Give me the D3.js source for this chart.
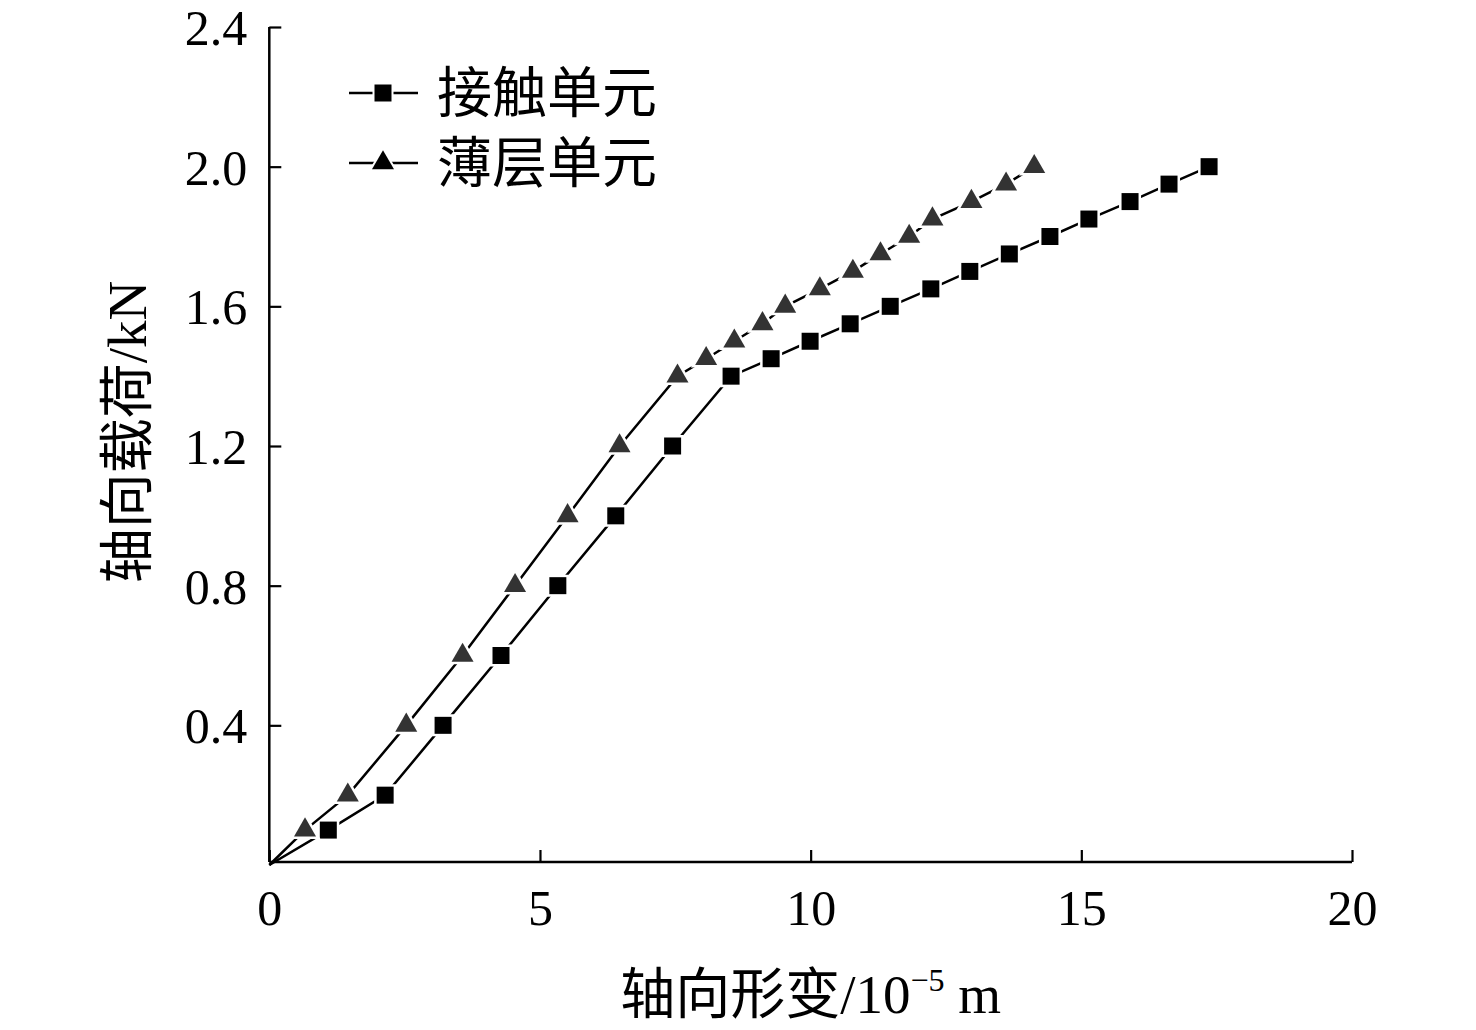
<!DOCTYPE html>
<html><head><meta charset="utf-8">
<script src="https://cdn.jsdelivr.net/npm/d3@7"></script>
<style>body{margin:0;background:#fff}</style>
</head><body>
<svg id="c" width="1476" height="1030"></svg>
<script>
// ---- data ----
const contactX = [0, 1.09, 2.14, 3.21, 4.28, 5.33, 6.40, 7.45, 8.53, 9.27, 9.99, 10.73, 11.47, 12.22, 12.94, 13.67, 14.42, 15.14, 15.90, 16.62, 17.36];
const contactY = [0, 0.1, 0.2, 0.4, 0.6, 0.8, 1.0, 1.2, 1.4, 1.45, 1.5, 1.55, 1.6, 1.65, 1.7, 1.75, 1.8, 1.85, 1.9, 1.95, 2.0];
const thinX = [0, 0.66, 1.45, 2.53, 3.57, 4.54, 5.51, 6.47, 7.54, 8.07, 8.59, 9.11, 9.53, 10.17, 10.78, 11.29, 11.82, 12.25, 12.97, 13.61, 14.13];
const thinY = [0, 0.1, 0.2, 0.4, 0.6, 0.8, 1.0, 1.2, 1.4, 1.45, 1.5, 1.55, 1.6, 1.65, 1.7, 1.75, 1.8, 1.85, 1.9, 1.95, 2.0];
const seriesNames = ["接触单元", "薄层单元"];
const xTicks = [0, 5, 10, 15, 20];
const yTicks = [0.4, 0.8, 1.2, 1.6, 2.0, 2.4];
const xTitle = "轴向形变/10";
const xTitleSup = "−5";
const xTitleUnit = " m";
const yTitle = "轴向载荷/kN";

const FONT = "'Liberation Serif', 'Noto Sans CJK SC', serif";
const svg = d3.select("#c");
const x = d3.scaleLinear().domain([0, 20]).range([269.3, 1352]);
const y = d3.scaleLinear().domain([0, 2.4]).range([865, 27]);
const axisY = 862;

// axes
const gx = svg.append("g").attr("transform", `translate(0,${axisY})`)
  .call(d3.axisBottom(x).tickValues(xTicks).tickSizeInner(-12).tickSizeOuter(0).tickPadding(28).tickFormat(d3.format("d")));
const gy = svg.append("g").attr("transform", `translate(${x(0)},0)`)
  .call(d3.axisLeft(y).tickValues(yTicks).tickSizeInner(-12).tickSizeOuter(0).tickPadding(22).tickFormat(d3.format(".1f")));
[gx, gy].forEach(g => {
  g.select(".domain").remove();
  g.selectAll("line").attr("stroke", "#000").attr("stroke-width", 2.2);
  g.selectAll("text").attr("font-family", FONT).attr("font-size", 50).attr("fill", "#000");
});
gx.selectAll("text").attr("dy", "0.7em");
gy.selectAll("text").attr("dy", "0.35em");
svg.append("line").attr("x1", x(0)).attr("x2", x(20)).attr("y1", axisY).attr("y2", axisY)
  .attr("stroke", "#000").attr("stroke-width", 2.5);
svg.append("line").attr("x1", x(0)).attr("x2", x(0)).attr("y1", axisY).attr("y2", y(2.4))
  .attr("stroke", "#000").attr("stroke-width", 2.5);

// titles
const xt = svg.append("text").attr("x", (x(0) + x(20)) / 2).attr("y", 1013)
  .attr("text-anchor", "middle").attr("font-family", FONT).attr("font-size", 55).attr("fill", "#000");
xt.append("tspan").text(xTitle);
xt.append("tspan").attr("font-size", 32).attr("dy", -22).text(xTitleSup);
xt.append("tspan").attr("dy", 22).text(xTitleUnit);
svg.append("text").attr("transform", `translate(146,432) rotate(-90)`)
  .attr("text-anchor", "middle").attr("font-family", FONT).attr("font-size", 55).attr("fill", "#000")
  .text(yTitle);

// series
const line = d3.line().x(d => x(d[0])).y(d => y(d[1]));
const sq = d3.symbol().type(d3.symbolSquare).size(17 * 17);
const tri = d3.symbol().type(d3.symbolTriangle).size(210);
const series = [
  {pts: contactX.map((v, i) => [v, contactY[i]]), sym: sq, fill: "#000"},
  {pts: thinX.map((v, i) => [v, thinY[i]]), sym: tri, fill: "#333"}
];
series.forEach(s => {
  svg.append("path").attr("d", line(s.pts)).attr("fill", "none").attr("stroke", "#000").attr("stroke-width", 2.5);
  svg.selectAll(null).data(s.pts.slice(1)).enter().append("path")
    .attr("d", s.sym()).attr("transform", d => `translate(${x(d[0])},${y(d[1])})`)
    .attr("fill", s.fill).attr("stroke", "#fff").attr("stroke-width", 5).attr("paint-order", "stroke");
});

// legend
const legY = [93, 163];
series.forEach((s, i) => {
  const g = svg.append("g").attr("transform", `translate(349,${legY[i]})`);
  g.append("line").attr("x1", 0).attr("x2", 69).attr("stroke", "#000").attr("stroke-width", 2.5);
  g.append("path").attr("d", s.sym()).attr("transform", "translate(34,0)")
    .attr("fill", "#000").attr("stroke", "#fff").attr("stroke-width", 4).attr("paint-order", "stroke");
  g.append("text").attr("x", 88).attr("y", 19).attr("font-family", FONT).attr("font-size", 55)
    .attr("fill", "#000").text(seriesNames[i]);
});
</script>
</body></html>
